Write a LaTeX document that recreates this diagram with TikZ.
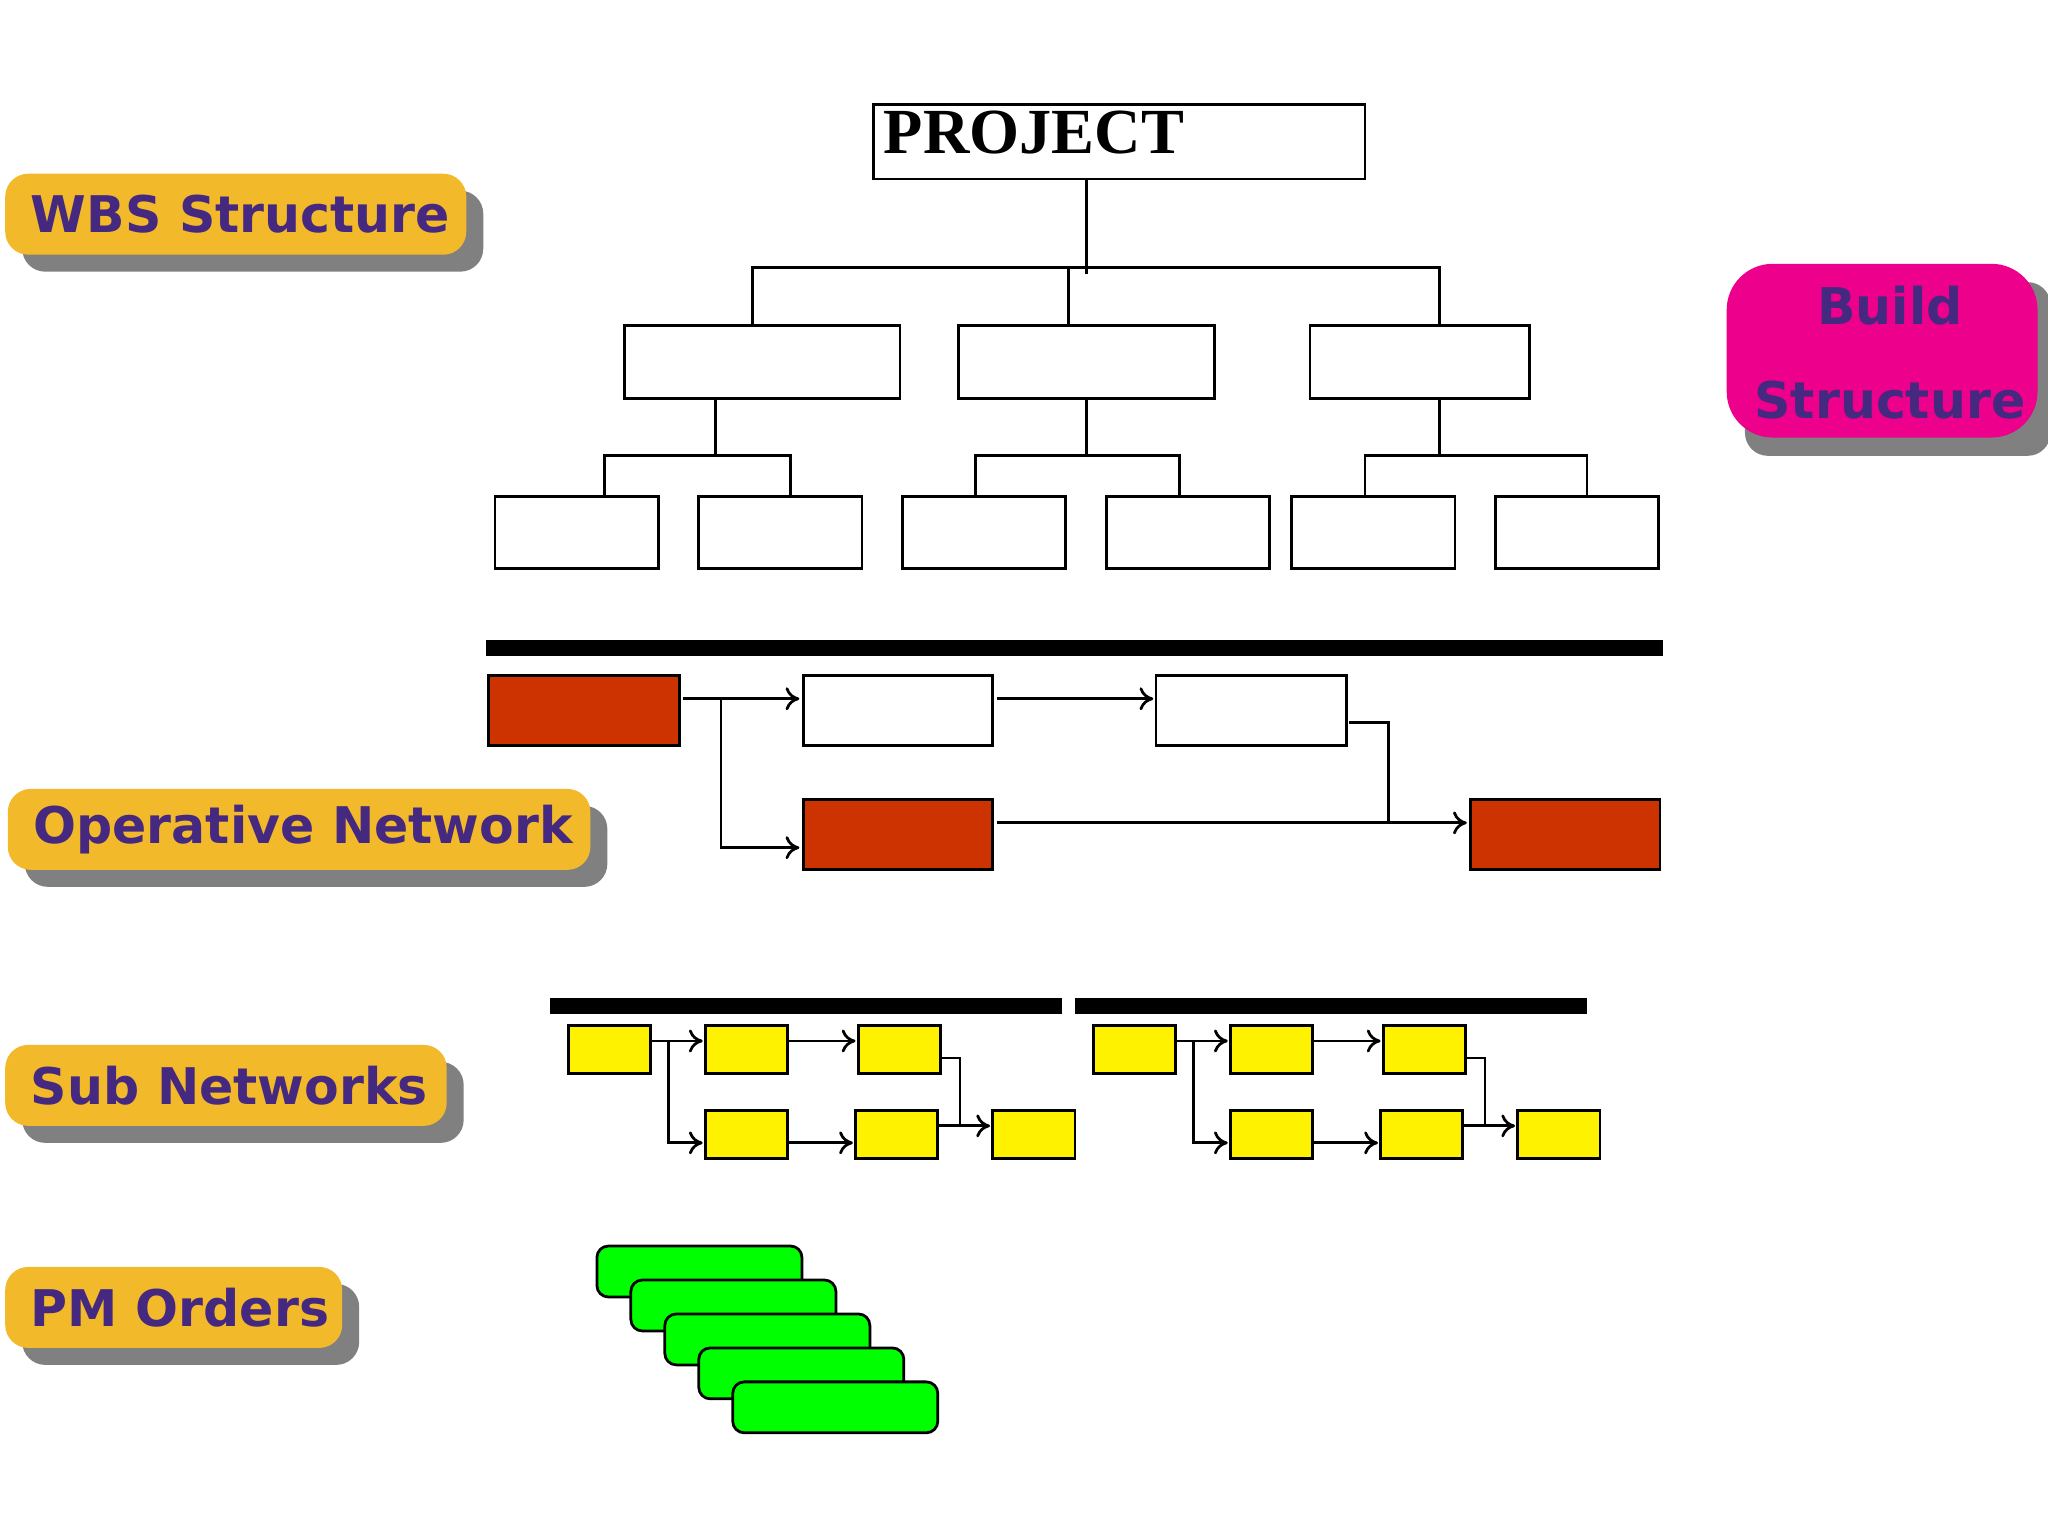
\documentclass[tikz,border=0pt]{standalone}
\usepackage{fontspec}
\newfontfamily\lbl{DejaVu Sans Bold}
\newfontfamily\ser{Liberation Serif}
\usetikzlibrary{arrows.meta}
\definecolor{org}{HTML}{F2B92B}
\definecolor{ink}{HTML}{45287F}
\definecolor{rust}{HTML}{CC3300}
\definecolor{shg}{HTML}{808080}
\begin{document}
\begin{tikzpicture}[x=0.01cm,y=-0.01cm,
  box/.style={draw,line width=0.6pt},
  wb/.style={box,fill=white},
  rb/.style={box,fill=rust},
  yb/.style={box,fill=yellow},
  gb/.style={draw,line width=0.6pt,fill=green,rounded corners=2.5pt},
  ln/.style={line width=0.6pt},
  ar/.style={line width=0.6pt,-{To[length=3pt,width=5pt]}},
  bar/.style={line width=0.12cm},
  tag/.style={fill=org,rounded corners=5pt},
  shd/.style={fill=shg,rounded corners=5pt},
  tx/.style={font=\lbl\fontsize{11}{13}\selectfont,text=ink,anchor=west,inner sep=0pt}]
\useasboundingbox (0,0) rectangle (1568,1176);
% labels
\foreach \a/\b/\c/\d/\n/\t in {4/133/357/195/wbs/WBS Structure,6/604/452/666/opn/Operative Network,4/800/342/862/sub/Sub Networks,4/970/262/1032/pmo/PM Orders}{
  \fill[shd] (\a+13,\b+13) rectangle (\c+13,\d+13);
  \fill[tag] (\a,\b) rectangle (\c,\d);
  \node[tx] (\n) at (\a+19,{(\b+\d)/2}) {\t};
}
\fill[shd] (1336,216) rectangle (1570,349);
\fill[magenta,rounded corners=10pt] (1322,202) rectangle (1560,335);
\node[font=\lbl\fontsize{11}{13}\selectfont,text=ink,align=center] (bld) at (1447,270) {Build\\[0.26cm]Structure};
% WBS
\draw[wb] (669,80) rectangle (1045,137) coordinate (proj);
\node[anchor=north west,font=\ser\bfseries\fontsize{14}{16}\selectfont,inner sep=0pt] (projt) at (676,84) {PROJECT};
\foreach \a/\c/\n in {478/689/l1,734/930/l2,1003/1171/l3}
  \draw[wb] (\a,249) rectangle (\c,305) coordinate (\n);
\foreach \a/\n in {379/m1,535/m2,691/m3,847/m4,989/m5,1145/m6}
  \draw[wb] (\a,380) rectangle (\a+125,435) coordinate (\n);
\draw[ln] (832,137) -- (832,210);
\draw[ln] (576,249) |- (1102,205) -- (1102,249);
\draw[ln] (818,205) -- (818,249);
\draw[ln] (548,305) -- (548,349);
\draw[ln] (463,380) |- (605,349) -- (605,380);
\draw[ln] (832,305) -- (832,349);
\draw[ln] (747,380) |- (903,349) -- (903,380);
\draw[ln] (1102,305) -- (1102,349);
\draw[ln] (1045,380) |- (1215,349) -- (1215,380);
% operative
\draw[bar] (372,496) -- (1273,496);
\draw[rb] (374,517) rectangle (520,571) coordinate (o1);
\draw[wb] (615,517) rectangle (760,571) coordinate (o2);
\draw[wb] (885,517) rectangle (1031,571) coordinate (o3);
\draw[rb] (615,612) rectangle (760,666) coordinate (o4);
\draw[rb] (1126,612) rectangle (1271,666) coordinate (o5);
\draw[ar] (523,535) -- (612,535);
\draw[ar] (552,535) |- (612,649);
\draw[ar] (763,535) -- (883,535);
\draw[ln] (1033,553) -| (1063,630);
\draw[ar] (763,630) -- (1123,630);
% sub networks
\draw[bar] (421,770) -- (813,770);
\draw[bar] (823,770) -- (1215,770);
\foreach \o/\s in {0/a,402/b}{
 \begin{scope}[xshift=\o*0.01cm]
  \draw[yb] (435,785) rectangle (498,822);
  \draw[yb] (540,785) rectangle (603,822);
  \draw[yb] (657,785) rectangle (720,822);
  \draw[yb] (540,850) rectangle (603,887);
  \draw[yb] (655,850) rectangle (718,887);
  \draw[yb] (760,850) rectangle (823,887);
  \draw[ar] (499,797) -- (538,797);
  \draw[ar] (512,797) |- (538,875);
  \draw[ar] (604,797) -- (655,797);
  \draw[ar] (604,875) -- (653,875);
  \draw[ln] (721,810) -| (735,862);
  \draw[ar] (719,862) -- (758,862);
 \end{scope}}
% PM orders
\foreach \i in {0,...,4}
  \draw[gb] (457+26*\i,954+26*\i) rectangle (614+26*\i,993+26*\i);
\end{tikzpicture}
\end{document}
